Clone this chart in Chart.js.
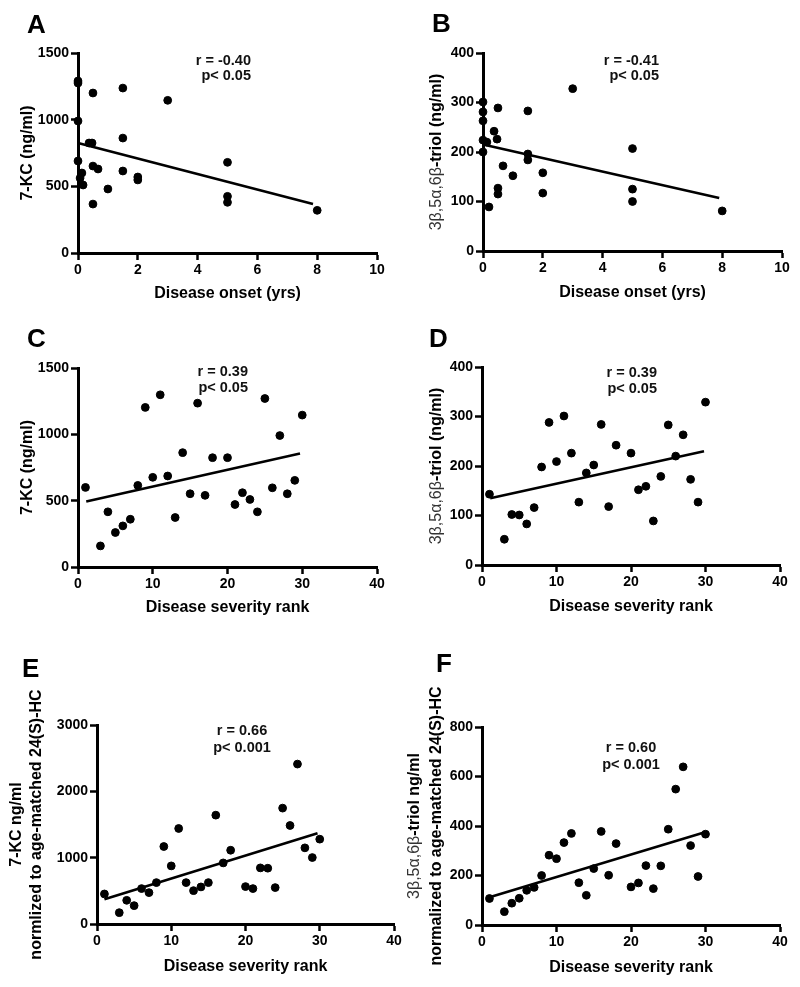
<!DOCTYPE html>
<html><head><meta charset="utf-8">
<script src="https://cdn.jsdelivr.net/npm/chart.js@4"></script>
<style>
html,body{margin:0;padding:0;background:#fff;}
#wrap{position:relative;width:800px;height:987px;overflow:hidden;}
canvas{position:absolute;left:0;top:0;}
</style>
</head><body><div id="wrap"></div>
<script>
// ---------------- DATA ----------------
const onsetA = [0,0,0.5,1.5,0,0.37,0.47,1.5,0,0.5,0.67,0.13,1.5,0.07,0.17,2,2,1,0.5,3,5,5,5,8];
const kcA    = [1290,1275,1200,1237,990,825,825,862,690,652,630,600,615,562,510,570,548,480,367,1145,680,425,380,320];
const onsetB = [0,0,0,0.5,1.5,0.37,0.47,0,0.13,0,1.5,1.5,0.67,1,2,0.5,0.5,2,0.2,3,5,5,5,8];
const triolB = [301,281,263,289,283,242,226,224,220,200,196,184,172,152,158,127,115,117,89,328,207,125,100,81];
const rank   = [1,3,4,5,6,7,8,9,10,11,12,13,14,15,16,17,18,20,21,22,23,24,25,26,27,28,29,30];
const kcC    = [600,159,416,260,310,360,615,1203,676,1298,686,373,862,552,1235,540,824,824,471,560,509,416,1270,597,991,552,653,1145];
const triolD = [143,52,102,101,83,116,198,288,209,301,226,127,186,202,284,118,242,226,152,159,89,179,283,220,263,173,127,329];
const kcE    = [453,171,357,277,534,473,624,1168,876,1440,624,503,559,624,1641,921,1112,564,534,846,841,549,1747,1485,2411,1148,1002,1279];
const triolF = [107,54,88,108,140,152,200,282,268,333,370,171,120,228,378,201,329,154,170,240,147,239,387,549,639,321,196,367];

const fitAx = [0, 7.86],  fitAy = [825, 367];
const fitBx = [0, 7.9],   fitBy = [215, 107];
const fitCx = [1.1, 29.7], fitCy = [494, 855];
const fitDx = [1.1, 29.8], fitDy = [135, 230];
const fitEx = [1, 29.7],  fitEy = [372, 1369];
const fitFx = [1, 29.8],  fitFy = [112, 374];

const ticksOnset = [0,2,4,6,8,10];
const ticksRank  = [0,10,20,30,40];
const ticksKC    = [0,500,1000,1500];
const ticksTriol = [0,100,200,300,400];
const ticksKCn   = [0,1000,2000,3000];
const ticksTriolN= [0,200,400,600,800];

const statA = ['r = -0.40','p< 0.05'];
const statB = ['r = -0.41','p< 0.05'];
const statC = ['r = 0.39','p< 0.05'];
const statD = ['r = 0.39','p< 0.05'];
const statE = ['r = 0.66','p< 0.001'];
const statF = ['r = 0.60','p< 0.001'];

// ---------------- LAYOUT / STYLE ----------------
const FONT = '"Liberation Sans", Arial, Helvetica, sans-serif';
const W = 800, H = 987, YW = 40, XH = 30;
const G = [{t:'3\u03B2,5\u03B1,6\u03B2', w:'normal', c:'#333'}];

const panels = [
  {area:{l:78,r:377,t:53,b:253}, x:onsetA, y:kcA, fx:fitAx, fy:fitAy, xt:ticksOnset, yt:ticksKC,
   letter:'A', lx:27, ly:33, xTitle:'Disease onset (yrs)', xTitleY:294,
   yTitles:[{x:28, segs:[{t:'7-KC (ng/ml)', w:'bold'}]}],
   stat:statA, sx:251, sy:[61,76], align:'right'},
  {area:{l:483,r:782,t:53,b:251}, x:onsetB, y:triolB, fx:fitBx, fy:fitBy, xt:ticksOnset, yt:ticksTriol,
   letter:'B', lx:432, ly:32, xTitle:'Disease onset (yrs)', xTitleY:293,
   yTitles:[{x:437, segs:G.concat([{t:'-triol (ng/ml)', w:'bold'}])}],
   stat:statB, sx:659, sy:[61,76], align:'right'},
  {area:{l:78,r:377,t:368,b:567}, x:rank, y:kcC, fx:fitCx, fy:fitCy, xt:ticksRank, yt:ticksKC,
   letter:'C', lx:27, ly:347, xTitle:'Disease severity rank', xTitleY:608,
   yTitles:[{x:28, segs:[{t:'7-KC (ng/ml)', w:'bold'}]}],
   stat:statC, sx:248, sy:[372,388], align:'right'},
  {area:{l:482,r:780,t:367,b:565}, x:rank, y:triolD, fx:fitDx, fy:fitDy, xt:ticksRank, yt:ticksTriol,
   letter:'D', lx:429, ly:347, xTitle:'Disease severity rank', xTitleY:607,
   yTitles:[{x:437, segs:G.concat([{t:'-triol (ng/ml)', w:'bold'}])}],
   stat:statD, sx:657, sy:[373,389], align:'right'},
  {area:{l:97,r:394,t:725,b:924}, x:rank, y:kcE, fx:fitEx, fy:fitEy, xt:ticksRank, yt:ticksKCn,
   letter:'E', lx:22, ly:677, xTitle:'Disease severity rank', xTitleY:967,
   yTitles:[{x:17, segs:[{t:'7-KC ng/ml', w:'bold'}]},
            {x:37, segs:[{t:'normlized to age-matched 24(S)-HC', w:'bold'}]}],
   stat:statE, sx:242, sy:[731,748], align:'center'},
  {area:{l:482,r:780,t:727,b:925}, x:rank, y:triolF, fx:fitFx, fy:fitFy, xt:ticksRank, yt:ticksTriolN,
   letter:'F', lx:436, ly:672, xTitle:'Disease severity rank', xTitleY:968,
   yTitles:[{x:415, segs:G.concat([{t:'-triol ng/ml', w:'bold'}])},
            {x:437, segs:[{t:'normalized to age-matched 24(S)-HC', w:'bold'}]}],
   stat:statF, sx:631, sy:[748,765], align:'center'}
];

const textPlugin = {
  id:'panelText',
  afterDraw(chart, args, o){
    const ctx = chart.ctx, ca = chart.chartArea;
    ctx.save();
    ctx.fillStyle = '#000';
    // letter
    ctx.font = 'bold 26px ' + FONT;
    ctx.textAlign = 'left'; ctx.textBaseline = 'alphabetic';
    ctx.fillText(o.letter, o.lx, o.ly);
    // x title
    ctx.font = 'bold 16px ' + FONT;
    ctx.textAlign = 'center'; ctx.textBaseline = 'middle';
    ctx.fillText(o.xTitle, (ca.left + ca.right)/2, o.xTitleY);
    // y titles (rich, rotated)
    const yc = (ca.top + ca.bottom)/2;
    o.yTitles.forEach(line => {
      ctx.save();
      ctx.translate(line.x, yc);
      ctx.rotate(-Math.PI/2);
      let total = 0;
      line.segs.forEach(s => { ctx.font = s.w + ' 16px ' + FONT; s._w = ctx.measureText(s.t).width; total += s._w; });
      let x = -total/2;
      ctx.textAlign = 'left'; ctx.textBaseline = 'middle';
      line.segs.forEach(s => { ctx.font = s.w + ' 16px ' + FONT; ctx.fillStyle = s.c || '#000'; ctx.fillText(s.t, x, 0); x += s._w; });
      ctx.restore();
    });
    // stats
    ctx.fillStyle = '#111';
    ctx.font = 'bold 14.5px ' + FONT;
    ctx.textAlign = o.align; ctx.textBaseline = 'middle';
    o.stat.forEach((t,i) => ctx.fillText(t, o.sx, o.sy[i]));
    ctx.restore();
  }
};

const wrap = document.getElementById('wrap');
panels.forEach(p => {
  const cv = document.createElement('canvas');
  cv.width = W; cv.height = H;
  cv.style.width = W + 'px'; cv.style.height = H + 'px';
  wrap.appendChild(cv);
  const pts = p.x.map((v,i) => ({x:v, y:p.y[i]}));
  const fit = p.fx.map((v,i) => ({x:v, y:p.fy[i]}));
  const axisCommon = (ticks, isX) => ({
    type:'linear',
    min: ticks[0], max: ticks[ticks.length-1],
    afterBuildTicks: s => { s.ticks = ticks.map(v => ({value:v})); },
    afterFit: s => { if (isX) s.height = XH; else s.width = YW; },
    border:{display:true, color:'#000', width:3},
    grid:{display:true, drawOnChartArea:false, drawTicks:true, tickLength:7, tickWidth:2.5, tickColor:'#000', color:'#000'},
    ticks:{color:'#000', padding:2, font:{family:FONT, size:14, weight:'bold'}, maxRotation:0, autoSkip:false,
           callback: v => String(v)},
    title:{display:false}
  });
  new Chart(cv, {
    type:'scatter',
    data:{datasets:[
      {type:'line', data:fit, borderColor:'#000', borderWidth:2.6, pointRadius:0, fill:false, tension:0, clip:false, order:1},
      {data:pts, backgroundColor:'#000', borderColor:'#000', pointRadius:3.9, pointBorderWidth:1, clip:false, order:0}
    ]},
    options:{
      responsive:false, animation:false, devicePixelRatio:1,
      layout:{padding:{left:p.area.l - YW, right:W - p.area.r, top:p.area.t, bottom:H - p.area.b - XH}},
      scales:{ x: axisCommon(p.xt, true), y: axisCommon(p.yt, false) },
      plugins:{ legend:{display:false}, tooltip:{enabled:false}, title:{display:false},
        panelText:{letter:p.letter, lx:p.lx, ly:p.ly, xTitle:p.xTitle, xTitleY:p.xTitleY,
                   yTitles:p.yTitles, stat:p.stat, sx:p.sx, sy:p.sy, align:p.align} }
    },
    plugins:[textPlugin]
  });
});
</script>
</body></html>
